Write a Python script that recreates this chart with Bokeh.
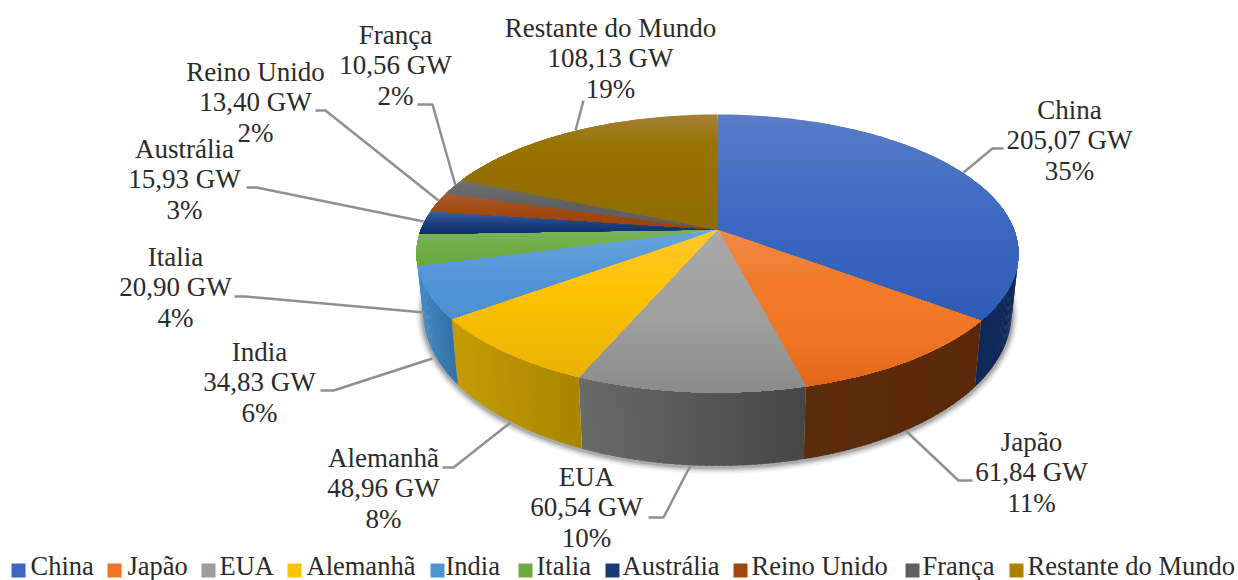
import numpy as np
from bokeh.plotting import figure, ColumnDataSource
from bokeh.models import Range1d
from bokeh.embed import file_html
from bokeh.resources import INLINE
from bokeh.core.properties import value

# ---- data ----
names = ["China", "Japão", "EUA", "Alemanhã", "India", "Italia", "Austrália",
         "Reino Unido", "França", "Restante do Mundo"]
gw = [205.07, 61.84, 60.54, 48.96, 34.83, 20.90, 15.93, 13.40, 10.56, 108.13]
percents = [35, 11, 10, 8, 6, 4, 3, 2, 2, 19]

# ---- styles ----
FONT = "Liberation Serif"
TEXT = "#2b2b2b"
top_stops = [
    [(0, "#5a7cc6"), (.15, "#4f75c5"), (.5, "#3c69c2"), (1, "#2e5bb2")],
    [(0, "#ef8a4a"), (.3, "#f27b2b"), (.7, "#ee7522"), (1, "#e0651a")],
    [(0, "#a8a8a8"), (.5, "#a0a0a0"), (1, "#8a8a8a")],
    [(0, "#ffc82e"), (.4, "#fdc300"), (1, "#e9b106")],
    [(0, "#68a3dc"), (.5, "#5496d8"), (1, "#4a8fd0")],
    [(0, "#7ab55c"), (.5, "#6fae45"), (1, "#68a838")],
    [(0, "#3f5f9c"), (.5, "#1e4382"), (1, "#0f2a66")],
    [(0, "#a9592e"), (.5, "#a14a12"), (1, "#9a4002")],
    [(0, "#707070"), (.5, "#606060"), (1, "#5f5f5f")],
    [(0, "#a37f35"), (.25, "#977300"), (1, "#8f6c00")],
]
side_stops = [
    ("#0e2e60", "#0f2a58"), ("#5a2a08", "#5c2d0b"), ("#474747", "#6a6a6a"),
    ("#a98600", "#c59c05"), ("#3371a8", "#4488c4"), ("#4488c4", "#4a8fcc"),
    ("#4a8fcc", "#4a8fcc"), ("#6e3208", "#6e3208"), ("#444444", "#444444"),
    ("#6b5100", "#6b5100"),
]
swatch_colors = ["#3a66bd", "#ee7526", "#9c9c9c", "#fdc300", "#4f93d3",
                 "#6cab40", "#1a3a75", "#a1470f", "#5f5f5f", "#aa8200"]

# ---- layout (page pixels) ----
CX, CY = 717, 229
A, K, B = 134.9, 0.1727, 296.5
FX, FY, DEPTH = 0.977, 1.10, 57

label_xy = [(1069, 109), (1031, 441), (586, 476), (383, 457), (259, 351),
            (175, 256), (184, 148), (255, 71), (395, 34), (610, 27)]
LINE_STEP = 30.7
leaders = [
    [(1003, 148), (992, 148), (963, 172)],
    [(905, 430), (958, 480), (972, 480)],
    [(690, 465), (663, 517), (648, 517)],
    [(510, 422), (453, 467), (442, 467)],
    [(432, 358), (333, 390), (320, 390)],
    [(424, 312), (245, 296), (234, 296)],
    [(423, 221), (256, 187), (246, 187)],
    [(438, 200), (325, 110), (315, 110)],
    [(455, 185), (432, 104), (417, 104)],
    [(575, 130), (583, 100)],
]
swatch_x = [11, 107, 201, 287, 430, 518, 605, 733, 905, 1009]
text_x = [30, 127, 219, 306, 445, 536, 622, 751, 922, 1027]
LEG_Y = 565
SWATCH_Y = 570


def hex2rgb(h):
    return np.array([int(h[i:i + 2], 16) for i in (1, 3, 5)], float)


def rgb2hex(c):
    return "#%02x%02x%02x" % tuple(int(round(v)) for v in c)


def grad(stops, t):
    for (t0, c0), (t1, c1) in zip(stops, stops[1:]):
        if t <= t1:
            f = (t - t0) / (t1 - t0)
            return rgb2hex(hex2rgb(c0) * (1 - f) + hex2rgb(c1) * f)
    return stops[-1][1]


def rim(theta):
    """Offset from the pie centre of a rim point, clockwise angle from the top."""
    u, v = np.sin(theta), np.cos(theta)
    w = 1 + K * v
    return B * u / w, -A * v / w


def clip_below(xs, ys, y0):
    """Keep the part of a polygon with y >= y0."""
    ox, oy = [], []
    n = len(xs)
    for i in range(n):
        x1, y1, x2, y2 = xs[i], ys[i], xs[(i + 1) % n], ys[(i + 1) % n]
        if y1 >= y0:
            ox.append(x1); oy.append(y1)
        if (y1 >= y0) != (y2 >= y0):
            f = (y0 - y1) / (y2 - y1)
            ox.append(x1 + f * (x2 - x1)); oy.append(y0)
    return ox, oy


p = figure(width=1238, height=580, x_range=Range1d(0, 1238), y_range=Range1d(580, 0),
           output_backend="svg", toolbar_location=None, min_border=0,
           background_fill_color="white", border_fill_color="white")
p.axis.visible = False
p.grid.visible = False
p.outline_line_color = None

total = sum(gw)
edges = np.concatenate([[0], np.cumsum(gw)]) / total * 2 * np.pi

# soft shadow round the lower rim
ts = np.radians(np.linspace(75, 285, 200))
dx, dy = rim(ts)
bx = CX + dx * FX
by = CY + dy * FY + DEPTH
for width, alpha in [(14, .05), (10, .08), (7, .10), (4, .14)]:
    p.line(bx, by + 1, line_color="black", line_width=width, line_alpha=alpha)

# side wall, painted in narrow strips
sx, sy, sc = [], [], []
for i in range(len(gw)):
    tt = np.arange(edges[i], edges[i + 1], np.radians(1.0))
    tt = np.append(tt, edges[i + 1])
    cr, cl = side_stops[i]
    xa = CX + rim(edges[i])[0]
    xb = CX + rim(edges[i + 1])[0]
    for a, b in zip(tt[:-1], tt[1:]):
        if not np.radians(70) < a < np.radians(290):
            continue
        ax, ay = rim(a)
        e = min(b + np.radians(.4), edges[i + 1])
        ex, ey = rim(e)
        sx.append([CX + ax, CX + ex, CX + ex * FX, CX + ax * FX])
        sy.append([CY + ay, CY + ey, CY + ey * FY + DEPTH, CY + ay * FY + DEPTH])
        f = 0 if xb == xa else ((CX + ax) - xa) / (xb - xa)
        f = float(np.clip(f, 0, 1))
        sc.append(rgb2hex(hex2rgb(cr) * (1 - f) + hex2rgb(cl) * f))
p.patches(xs="x", ys="y", fill_color="c", line_color=None,
          source=ColumnDataSource(dict(x=sx, y=sy, c=sc)))

# top face, each slice painted as bands that follow its vertical gradient
tx, ty, tc = [], [], []
for i in range(len(gw)):
    tt = np.linspace(edges[i], edges[i + 1], max(6, int(np.degrees(edges[i + 1] - edges[i]))))
    dx, dy = rim(tt)
    xs = [CX] + list(CX + dx)
    ys = [CY] + list(CY + dy)
    y0, y1 = min(ys), max(ys)
    for k in range(28):
        t = k / 27
        cx, cy = clip_below(xs, ys, y0 + t * (y1 - y0) * .999)
        if len(cx) >= 3:
            tx.append(cx); ty.append(cy); tc.append(grad(top_stops[i], t))
p.patches(xs="x", ys="y", fill_color="c", line_color=None,
          source=ColumnDataSource(dict(x=tx, y=ty, c=tc)))

# leaders
p.multi_line(xs=[[q[0] for q in l] for l in leaders],
             ys=[[q[1] for q in l] for l in leaders],
             line_color="#909090", line_width=2.5)

# data labels
lx, ly, lt = [], [], []
for (x, y), n, v, pc in zip(label_xy, names, gw, percents):
    for j, s in enumerate([n, f"{v:.2f} GW".replace(".", ","), f"{pc}%"]):
        lx.append(x); ly.append(y + j * LINE_STEP); lt.append(s)
p.text(x=lx, y=ly, text=lt, text_font=value(FONT), text_font_size="27px",
       text_color=TEXT, text_align="center", text_baseline="middle")

# legend
p.rect(x=[v + 7 for v in swatch_x], y=[SWATCH_Y] * len(swatch_x), width=14, height=14,
       fill_color=swatch_colors, line_color=None)
p.text(x=text_x, y=[LEG_Y] * len(text_x), text=names, text_font=value(FONT),
       text_font_size="26.5px", text_color=TEXT, text_align="left", text_baseline="middle")

open("out.html", "w").write(file_html(p, INLINE))
